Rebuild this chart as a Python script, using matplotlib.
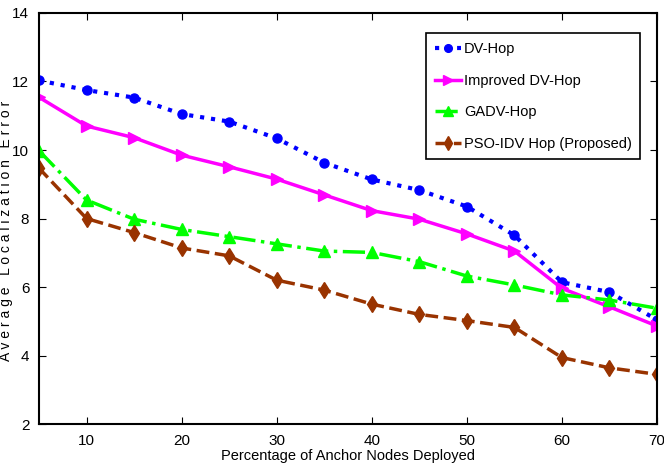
import matplotlib
matplotlib.use("Agg")
import matplotlib.pyplot as plt

plt.rcParams['font.family'] = ['Liberation Sans', 'DejaVu Sans']

x = [5, 10, 15, 20, 25, 30, 35, 40, 45, 50, 55, 60, 65, 70]
dv_hop = [12.03, 11.75, 11.53, 11.05, 10.83, 10.34, 9.63, 9.14, 8.83, 8.35, 7.51, 6.14, 5.85, 5.04]
improved_dv_hop = [11.54, 10.70, 10.36, 9.85, 9.51, 9.15, 8.69, 8.23, 7.98, 7.55, 7.05, 5.96, 5.42, 4.86]
gadv_hop = [9.98, 8.54, 7.98, 7.68, 7.47, 7.26, 7.05, 7.01, 6.74, 6.32, 6.06, 5.77, 5.62, 5.38]
pso_idv_hop = [9.47, 8.00, 7.59, 7.14, 6.91, 6.20, 5.91, 5.50, 5.20, 5.02, 4.82, 3.94, 3.64, 3.45]

labels = ['DV-Hop', 'Improved DV-Hop', 'GADV-Hop', 'PSO-IDV Hop (Proposed)']
x_ticks = [10, 20, 30, 40, 50, 60, 70]
y_ticks = [2, 4, 6, 8, 10, 12, 14]

fig = plt.figure(figsize=(6.64, 4.76), dpi=100)
ax = fig.add_axes([0.0587, 0.1092, 0.9308, 0.8635])

ax.plot(x, dv_hop, color='#0000ff', linestyle=':', linewidth=3, marker='o',
        markersize=6.5, markerfacecolor='#0000ff', markeredgecolor='#0000ff', label=labels[0])
ax.plot(x, improved_dv_hop, color='#ff00ff', linestyle='-', linewidth=2.5, marker='>',
        markersize=8, markerfacecolor='#ff00ff', markeredgecolor='#ff00ff', label=labels[1])
ax.plot(x, gadv_hop, color='#00ff00', linestyle='-.', linewidth=2.5, marker='^',
        markersize=8, markerfacecolor='#00ff00', markeredgecolor='#00ff00', label=labels[2])
ax.plot(x, pso_idv_hop, color='#993300', linestyle='--', linewidth=2.5, marker='d',
        markersize=8, markerfacecolor='#993300', markeredgecolor='#993300', label=labels[3])

ax.set_xlim(5, 70)
ax.set_ylim(2, 14)
ax.set_xticks(x_ticks)
ax.set_yticks(y_ticks)
ax.tick_params(direction='in', top=True, right=True, length=5, width=0.8,
               labelsize=11, pad=7)
for s in ax.spines.values():
    s.set_linewidth(1.5)

ax.set_xlabel('Percentage of Anchor Nodes Deployed', fontsize=10.5, labelpad=1)
ax.set_ylabel(' '.join('Average Localization Error'), fontsize=10)
ax.yaxis.set_label_coords(-0.0425, 0.47)

leg = ax.legend(loc='upper right', bbox_to_anchor=(0.985, 0.968), fontsize=10.5,
                frameon=True, fancybox=False, edgecolor='black', framealpha=1,
                handlelength=1.8, handletextpad=0.2, borderpad=0.6, labelspacing=1.2,
                markerscale=0.85)
leg.get_frame().set_linewidth(1.2)

fig.savefig('out.png', dpi=100)
